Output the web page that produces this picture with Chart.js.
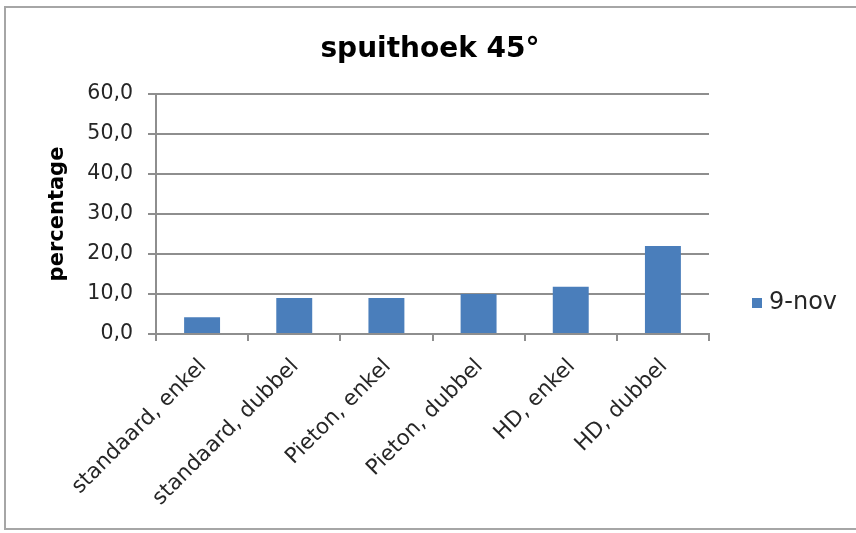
<!DOCTYPE html>
<html>
<head>
<meta charset="utf-8">
<script src="https://cdn.jsdelivr.net/npm/chart.js@4.4.0/dist/chart.umd.min.js"></script>
<style>
  html, body { margin: 0; padding: 0; background: #ffffff; }
  canvas { display: block; }
</style>
</head>
<body>
<canvas id="chart" width="856" height="533"></canvas>
<script>
// Spray angle 45°: percentage per nozzle type and configuration
const categories = [
  'standaard, enkel',
  'standaard, dubbel',
  'Pieton, enkel',
  'Pieton, dubbel',
  'HD, enkel',
  'HD, dubbel'
];
const seriesName = '9-nov';
const values = [4.2, 9.0, 9.0, 10.0, 11.8, 22.0];
const yTicks = [0, 10, 20, 30, 40, 50, 60];
const chartTitle = 'spuithoek 45°';
const yTitle = 'percentage';

const FONT = '"DejaVu Sans", Verdana, sans-serif';
const BAR = '#4a7ebb';
const GRID = '#8e8e8e';
const TEXT = '#262626';

// Outer frame and centred title
const framePlugin = {
  id: 'frame',
  beforeDraw(chart) {
    const ctx = chart.ctx;
    ctx.save();
    ctx.fillStyle = '#ffffff';
    ctx.fillRect(0, 0, chart.width, chart.height);
    ctx.strokeStyle = '#a6a6a6';
    ctx.lineWidth = 2;
    ctx.strokeRect(5, 7, chart.width + 10, 522);
    ctx.fillStyle = '#000000';
    ctx.font = 'bold 28px ' + FONT;
    ctx.textAlign = 'center';
    ctx.textBaseline = 'alphabetic';
    ctx.fillText(chartTitle, 430, 57);
    ctx.restore();
  }
};

// Single-entry legend drawn to the right of the plot
const sideLegend = {
  id: 'sideLegend',
  afterDraw(chart) {
    const ctx = chart.ctx;
    const ds = chart.data.datasets[0];
    const x = 752, y = 303;
    ctx.save();
    ctx.fillStyle = ds.backgroundColor;
    ctx.fillRect(x, y - 5, 10, 10);
    ctx.fillStyle = TEXT;
    ctx.font = '24px ' + FONT;
    ctx.textAlign = 'left';
    ctx.textBaseline = 'middle';
    ctx.fillText(ds.label, x + 17, y);
    ctx.restore();
  }
};

new Chart(document.getElementById('chart'), {
  type: 'bar',
  data: {
    labels: categories,
    datasets: [{
      label: seriesName,
      data: values,
      backgroundColor: BAR,
      borderWidth: 0,
      barPercentage: 0.39,
      categoryPercentage: 1.0
    }]
  },
  options: {
    responsive: false,
    devicePixelRatio: 1,
    animation: false,
    layout: { padding: { left: 10, right: 147, top: 94, bottom: 0 } },
    plugins: {
      legend: { display: false },
      tooltip: { enabled: false },
      title: { display: false }
    },
    scales: {
      x: {
        afterFit(scale) { scale.height = 199; },
        grid: {
          display: true,
          offset: true,
          drawOnChartArea: false,
          drawTicks: true,
          tickLength: 7,
          color: GRID,
          lineWidth: 2
        },
        border: { display: true, color: GRID, width: 2 },
        ticks: {
          color: TEXT,
          font: { family: FONT, size: 21.5 },
          maxRotation: 45,
          minRotation: 45,
          autoSkip: false,
          padding: 13,
          labelOffset: 1
        }
      },
      y: {
        min: 0,
        max: 60,
        afterFit(scale) { scale.width = 146; },
        afterBuildTicks(scale) { scale.ticks = yTicks.map(v => ({ value: v })); },
        grid: {
          color: GRID,
          lineWidth: 2,
          drawTicks: true,
          tickLength: 8
        },
        border: { display: true, color: GRID, width: 2 },
        ticks: {
          color: TEXT,
          font: { family: FONT, size: 20.5 },
          padding: 15,
          callback: v => v.toFixed(1).replace('.', ',')
        },
        title: {
          display: true,
          text: yTitle,
          color: '#000000',
          font: { family: FONT, size: 21, weight: 'bold', lineHeight: 1.2 },
          padding: { top: 35, bottom: 0 }
        }
      }
    }
  },
  plugins: [framePlugin, sideLegend]
});
</script>
</body>
</html>
